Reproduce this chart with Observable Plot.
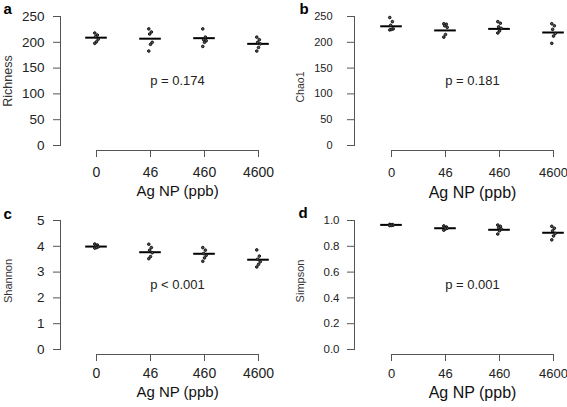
<!DOCTYPE html>
<html>
<head>
<meta charset="utf-8">
<script src="https://cdn.jsdelivr.net/npm/d3@7"></script>
<script src="https://cdn.jsdelivr.net/npm/@observablehq/plot@0.6"></script>
<style>
  html, body { margin: 0; padding: 0; background: #fff; }
  #wrap { position: relative; width: 567px; height: 407px; overflow: hidden; background: #fff; }
  .cell { position: absolute; }
  .cell svg { overflow: visible; }
</style>
</head>
<body>
<div id="wrap"></div>
<script>
// ---- data ----
const doses = ["0", "46", "460", "4600"];
const xTitle = "Ag NP (ppb)";

const richness = [
  [218, 214, 211, 206, 201, 198],
  [226, 220, 216, 200, 196, 183],
  [226, 210, 205, 203, 200, 192],
  [210, 205, 200, 197, 190, 183]
];
const richnessMid = [209, 207, 208, 197];

const chao1 = [
  [248, 240, 233, 226, 225, 224],
  [236, 235, 232, 229, 215, 210],
  [240, 237, 230, 227, 222, 218],
  [236, 232, 225, 217, 212, 198]
];
const chao1Mid = [231, 223, 226, 219];

const shannon = [
  [4.09, 4.05, 4.01, 3.98, 3.95, 3.93],
  [4.08, 3.95, 3.85, 3.75, 3.60, 3.52],
  [3.95, 3.85, 3.72, 3.65, 3.55, 3.42],
  [3.86, 3.62, 3.50, 3.40, 3.30, 3.20]
];
const shannonMid = [3.99, 3.77, 3.71, 3.48];

const simpson = [
  [0.970, 0.968, 0.966, 0.964, 0.962, 0.960],
  [0.958, 0.950, 0.945, 0.940, 0.935, 0.925],
  [0.965, 0.955, 0.945, 0.935, 0.920, 0.895],
  [0.955, 0.940, 0.920, 0.900, 0.880, 0.850]
];
const simpsonMid = [0.966, 0.940, 0.928, 0.905];

const countTicks = [0, 50, 100, 150, 200, 250];
const shannonTicks = [0, 1, 2, 3, 4, 5];
const simpsonTicks = [0, 0.2, 0.4, 0.6, 0.8, 1.0];

const pLabels = ["p = 0.174", "p = 0.181", "p < 0.001", "p = 0.001"];
const letters = ["a", "b", "c", "d"];
const yLabels = ["Richness", "Chao1", "Shannon", "Simpson"];

// ---- drawing ----
const FONT = "'Liberation Sans', Arial, Helvetica, sans-serif";
const AXIS = "#555";

function panel(cfg) {
  const rows = cfg.values.flatMap((vals, i) => vals.map((v, j) => ({i, j, v})));
  const mids = cfg.mids.map((v, i) => ({i, v}));
  const idx = doses.map((d, i) => i);
  const center = (doses.length - 1) / 2;
  const jitter = (j) => (((j * 3) % 5) - 2) * 0.016;
  return Plot.plot({
    width: cfg.w,
    height: cfg.h,
    marginTop: 16,
    marginBottom: cfg.h - 145,
    marginLeft: cfg.ml,
    marginRight: cfg.w - cfg.xr[1],
    x: {domain: [0, doses.length - 1], range: cfg.xr},
    y: {domain: [cfg.ticks[0], cfg.ticks[cfg.ticks.length - 1]]},
    style: {fontFamily: FONT, background: "white", overflow: "visible"},
    marks: [
      Plot.frame({anchor: "left", stroke: AXIS, strokeWidth: 1}),
      Plot.axisY({
        ticks: cfg.ticks, tickSize: 7, tickPadding: cfg.yPad,
        tickFormat: cfg.fmt, fontSize: cfg.yFont, stroke: AXIS, fill: "#222", label: null
      }),
      Plot.ruleY([cfg.ticks[0]], {x1: () => 0, x2: () => doses.length - 1, dy: 5, stroke: AXIS, strokeWidth: 1}),
      Plot.axisX({
        ticks: idx, tickFormat: (i) => doses[i], tickSize: 7, tickPadding: cfg.xPad,
        dy: 5, fontSize: cfg.xFont, stroke: AXIS, fill: "#222", label: null
      }),
      Plot.ruleY(mids, {y: "v", x1: (d) => d.i - 0.2, x2: (d) => d.i + 0.2, stroke: "#000", strokeWidth: 2}),
      Plot.dot(rows, {x: (d) => d.i + jitter(d.j), y: "v", r: 1.3, stroke: "#111", strokeWidth: 1, fill: "#555"}),
      Plot.text([cfg.p], {text: (d) => d, x: () => center, frameAnchor: "middle", fontSize: 13, fill: "#222"}),
      Plot.text([xTitle], {text: (d) => d, x: () => center, frameAnchor: "bottom", lineAnchor: "middle", dy: cfg.titleDy, fontSize: cfg.titleFont, fill: "#111"}),
      Plot.text([cfg.label], {text: (d) => d, frameAnchor: "left", rotate: -90, textAnchor: "middle", lineAnchor: "middle", dx: cfg.labelDx, dy: cfg.labelDy, fontSize: cfg.labelFont, fill: "#333"}),
      Plot.text([cfg.letter], {text: (d) => d, frameAnchor: "top-left", textAnchor: "start", lineAnchor: "bottom", dx: cfg.letterDx, dy: cfg.letterDy, fontSize: 15, fontWeight: "bold", fill: "#000"})
    ]
  });
}

const f0 = (d) => String(d);
const f1 = d3.format(".1f");

const cfgs = [
  {left: 0, top: 0, w: 283, h: 204, ml: 60, xr: [96, 258], values: richness, mids: richnessMid, ticks: countTicks, fmt: f0,
   yPad: 9, yFont: 13.5, xPad: 10, xFont: 14, titleFont: 15, titleDy: 46, labelFont: 12.5, labelDx: -53, labelDy: 0,
   letterDx: -57, letterDy: -3, p: pLabels[0], label: yLabels[0], letter: letters[0]},
  {left: 283, top: 0, w: 284, h: 204, ml: 71, xr: [108, 270], values: chao1, mids: chao1Mid, ticks: countTicks, fmt: f0,
   yPad: 15, yFont: 11, xPad: 10, xFont: 13, titleFont: 16, titleDy: 47, labelFont: 10.5, labelDx: -54, labelDy: 6,
   letterDx: -55, letterDy: -3, p: pLabels[1], label: yLabels[1], letter: letters[1]},
  {left: 0, top: 204, w: 283, h: 203, ml: 60, xr: [96, 258], values: shannon, mids: shannonMid, ticks: shannonTicks, fmt: f0,
   yPad: 9, yFont: 13.5, xPad: 7, xFont: 14, titleFont: 15, titleDy: 43, labelFont: 11, labelDx: -52, labelDy: -4,
   letterDx: -57, letterDy: -2, p: pLabels[2], label: yLabels[2], letter: letters[2]},
  {left: 283, top: 204, w: 284, h: 203, ml: 71, xr: [108, 270], values: simpson, mids: simpsonMid, ticks: simpsonTicks, fmt: f1,
   yPad: 8, yFont: 11.5, xPad: 7, xFont: 13, titleFont: 16, titleDy: 43, labelFont: 11, labelDx: -54, labelDy: -4,
   letterDx: -56, letterDy: -3, p: pLabels[3], label: yLabels[3], letter: letters[3]}
];

const wrap = document.getElementById("wrap");
for (const cfg of cfgs) {
  const div = document.createElement("div");
  div.className = "cell";
  div.style.left = cfg.left + "px";
  div.style.top = cfg.top + "px";
  div.appendChild(panel(cfg));
  wrap.appendChild(div);
}
</script>
</body>
</html>
